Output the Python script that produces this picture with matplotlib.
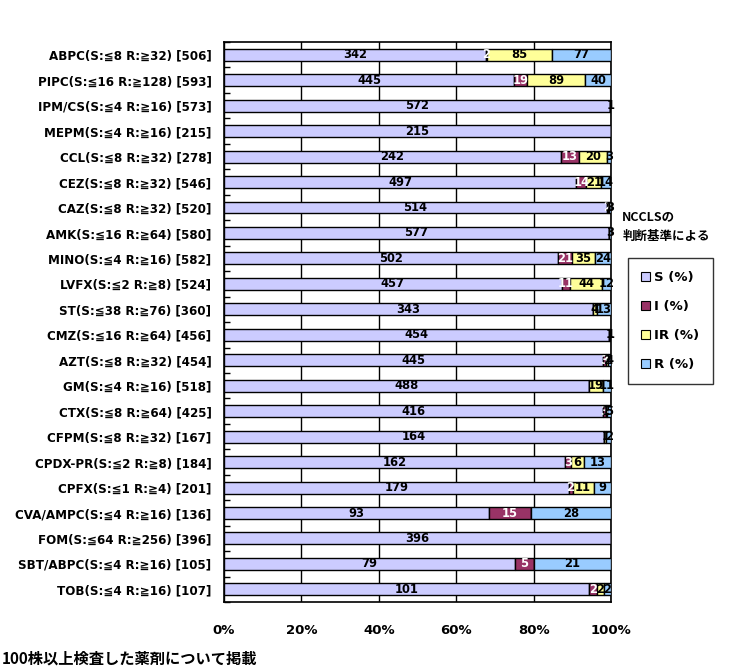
import numpy as np
import matplotlib.pyplot as plt
from matplotlib.patches import Patch

drugs = ['ABPC(S:≦8 R:≧32) [506]', 'PIPC(S:≦16 R:≧128) [593]', 'IPM/CS(S:≦4 R:≧16) [573]',
         'MEPM(S:≦4 R:≧16) [215]', 'CCL(S:≦8 R:≧32) [278]', 'CEZ(S:≦8 R:≧32) [546]',
         'CAZ(S:≦8 R:≧32) [520]', 'AMK(S:≦16 R:≧64) [580]', 'MINO(S:≦4 R:≧16) [582]',
         'LVFX(S:≦2 R:≧8) [524]', 'ST(S:≦38 R:≧76) [360]', 'CMZ(S:≦16 R:≧64) [456]',
         'AZT(S:≦8 R:≧32) [454]', 'GM(S:≦4 R:≧16) [518]', 'CTX(S:≦8 R:≧64) [425]',
         'CFPM(S:≦8 R:≧32) [167]', 'CPDX-PR(S:≦2 R:≧8) [184]', 'CPFX(S:≦1 R:≧4) [201]',
         'CVA/AMPC(S:≦4 R:≧16) [136]', 'FOM(S:≦64 R:≧256) [396]', 'SBT/ABPC(S:≦4 R:≧16) [105]',
         'TOB(S:≦4 R:≧16) [107]']
s_cnt = [342, 445, 572, 215, 242, 497, 514, 577, 502, 457, 343,
         454, 445, 488, 416, 164, 162, 179, 93, 396, 79, 101]
i_cnt = [2, 19, 0, 0, 13, 14, 2, 0, 21, 11, 0,
         0, 3, 0, 3, 0, 3, 2, 15, 0, 5, 2]
ir_cnt = [85, 89, 0, 0, 20, 21, 1, 0, 35, 44, 4,
          1, 2, 19, 1, 1, 6, 11, 0, 0, 0, 2]
r_cnt = [77, 40, 1, 0, 3, 14, 3, 3, 24, 12, 13,
         1, 4, 11, 5, 2, 13, 9, 28, 0, 21, 2]
series_names = ['S (%)', 'I (%)', 'IR (%)', 'R (%)']
colors = ['#CCCCFF', '#993366', '#FFFF99', '#99CCFF']
text_colors = ['black', 'white', 'black', 'black']
xticks = [0, 20, 40, 60, 80, 100]

counts = np.array([s_cnt, i_cnt, ir_cnt, r_cnt], dtype=float)
pct = counts / counts.sum(axis=0) * 100

lab_font = ['DejaVu Sans', 'Noto Sans CJK JP']
jp_font = ['Noto Sans CJK JP', 'DejaVu Sans']

fig = plt.figure(figsize=(7.38, 6.72), dpi=100)
ax = fig.add_axes([0.3035, 0.104, 0.5245, 0.8335])

y = np.arange(len(drugs))
left = np.zeros(len(drugs))
for k in range(4):
    ax.barh(y, pct[k], left=left, height=0.47, color=colors[k],
            edgecolor='black', linewidth=1, zorder=3)
    for j in range(len(drugs)):
        if counts[k, j] > 0:
            ax.text(left[j] + pct[k, j] / 2, y[j], '%d' % counts[k, j],
                    ha='center', va='center', fontsize=8.3, fontweight='bold',
                    color=text_colors[k], family=lab_font, zorder=4)
    left += pct[k]

ax.set_xlim(0, 100)
ax.set_ylim(len(drugs) - 0.5, -0.5)
ax.set_xticks(xticks)
ax.set_xticklabels(['%d%%' % v for v in xticks], fontsize=9.5, fontweight='bold',
                   family=lab_font)
ax.tick_params(axis='x', length=0, pad=16)
ax.xaxis.grid(True, color='black', linewidth=1, zorder=1)
ax.set_yticks(y)
ax.set_yticklabels(drugs, fontsize=8.6, fontweight='bold', family=lab_font)
ax.set_yticks(np.arange(len(drugs) + 1) - 0.5, minor=True)
ax.tick_params(axis='y', which='major', length=0, pad=9)
ax.tick_params(axis='y', which='minor', length=4, direction='in', width=1)
for sp in ax.spines.values():
    sp.set_linewidth(1.2)

fig.text(0.843, 0.678, 'NCCLSの', fontsize=9, fontweight='bold', family=jp_font, va='center')
fig.text(0.843, 0.648, '判断基準による', fontsize=9, fontweight='bold', family=jp_font, va='center')

handles = [Patch(facecolor=c, edgecolor='black', linewidth=0.8) for c in colors]
leg = fig.legend(handles, series_names, loc='upper left', bbox_to_anchor=(0.851, 0.616),
                 borderaxespad=0, frameon=True, fancybox=False, edgecolor='black',
                 handlelength=0.7, handleheight=0.7, handletextpad=0.3, labelspacing=1.2,
                 borderpad=1.0, prop={'family': lab_font, 'weight': 'bold', 'size': 9.5})
leg.get_frame().set_linewidth(1)

fig.text(0.002, 0.02, '100株以上検査した薬剤について掲載', fontsize=11, fontweight='bold',
         family=jp_font, va='center')

fig.savefig('out.png', dpi=100)
